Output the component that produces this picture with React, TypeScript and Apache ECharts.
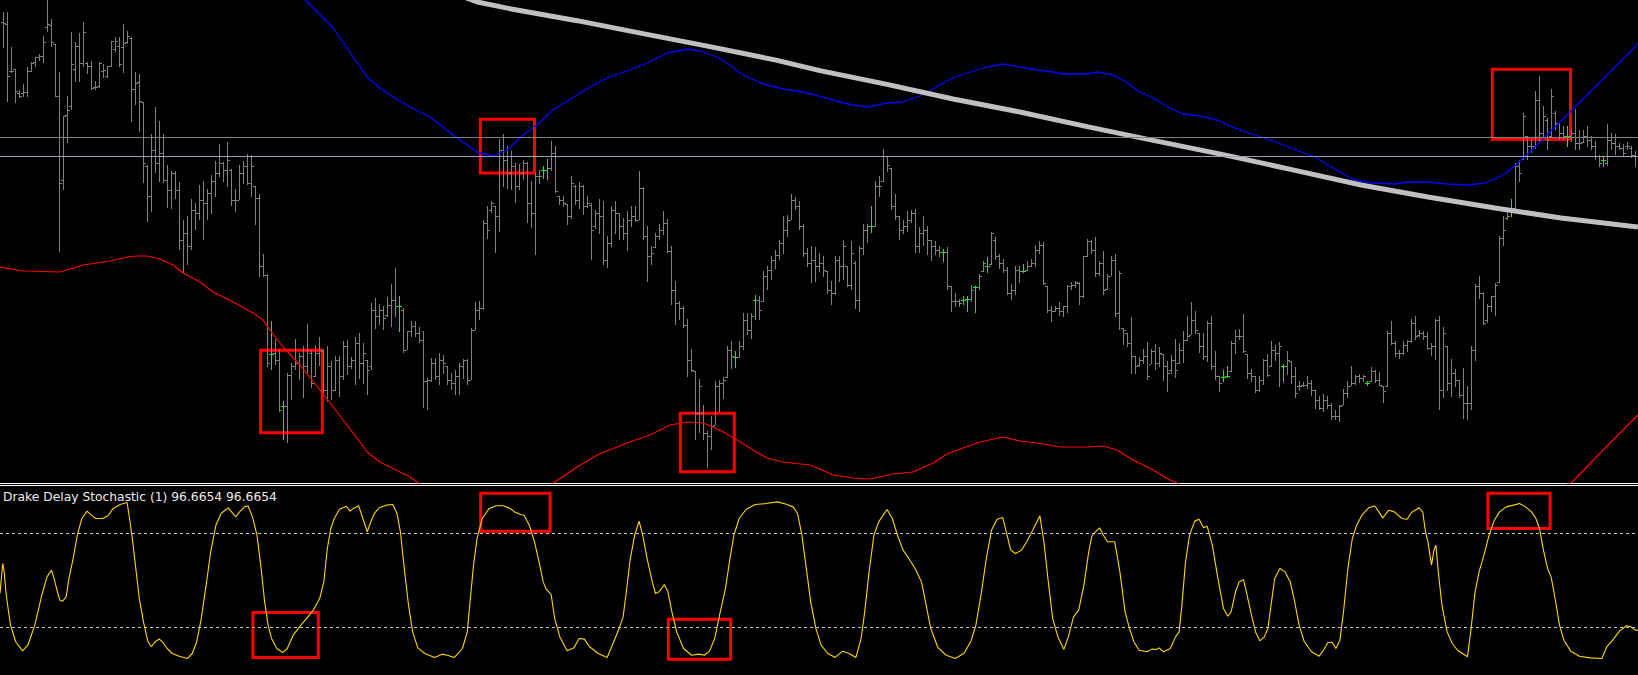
import React, { useEffect, useRef } from "react";
import * as echarts from "echarts";

// Price values are in chart points measured downward from the top of the visible range (axis is inverted).
const barHigh = [
  37,37,141,207,272,252,202,186,171,162, 110,0,57,132,216,349,289,97,126,100,
  67,186,183,243,186,193,198,123,111,111, 73,93,111,216,222,306,497,403,322,365,
  403,497,513,513,547,662,650,597,610,557, 545,567,527,483,432,486,426,507,567,497,
  484,462,466,560,583,763,822,963,1018,1050, 1203,1120,1090,1018,1060,1040,972,1052,1035,1012,
  1052,1038,1085,1068,1070,1025,1022,1072,1012,1000, 1030,1080,910,895,912,920,892,852,806,890,
  925,993,963,965,983,995,1135,1075,1075,1060, 1065,1100,1120,1110,1090,1077,1077,985,908,905,
  660,620,603,620,418,403,440,455,490,492, 480,488,545,520,510,500,478,423,438,588,
  590,612,528,557,548,555,590,610,630,598, 605,710,620,605,640,655,635,620,618,513,
  562,680,740,700,672,633,658,740,843,905, 920,958,1048,1115,1137,1217,1293,1248,1143,1140,
  1133,1040,1025,1053,1025,940,940,940,887,890, 815,798,768,750,720,650,645,583,592,605,
  672,745,740,742,760,768,815,843,768,768, 722,800,725,783,740,672,672,620,545,530,
  448,468,505,583,648,660,635,632,628,682, 650,678,722,725,738,748,742,860,880,898,
  888,888,855,860,822,785,773,697,712,762, 778,802,853,800,800,793,785,778,737,725,
  728,858,918,918,908,918,855,848,845,848, 768,717,720,712,785,755,822,770,762,815,
  985,1000,952,1068,1072,1048,1027,1048,1032,1042, 1062,1085,1065,1018,1030,995,948,908,935,1000,
  1000,965,948,1055,1128,1112,1098,1025,990,988, 942,1062,1108,1128,1128,1078,1062,1025,1035,1028,
  1092,1055,1085,1102,1145,1148,1128,1140,1172,1188, 1182,1188,1210,1232,1215,1168,1145,1098,1125,1122,
  1125,1143,1102,1110,1118,1158,995,965,1025,1052, 1025,1022,958,950,990,995,998,1030,958,948,
  982,1040,1078,1108,1140,1105,1160,1040,852,828, 878,912,888,850,708,648,635,598,490,480,
  340,408,418,275,228,318,355,268,335,368, 380,380,390,328,390,390,380,408,425,465,
  468,372,400,402,430,432,428,440,455,
];

const barLow = [
  143,305,218,308,293,290,290,215,200,182, 187,95,140,290,755,570,428,328,244,244,
  200,220,268,268,262,232,232,199,154,200, 218,130,365,313,395,548,664,635,517,545,
  548,622,627,595,748,818,795,748,690,660, 718,658,640,590,530,545,560,617,635,600,
  550,555,590,673,830,830,1100,1108,1095,1235, 1318,1328,1198,1110,1138,1193,1118,1163,1130,1098,
  1178,1205,1200,1173,1190,1140,1125,1107,1153,1135, 1152,1183,1108,985,975,990,950,980,950,995,
  1057,1050,1010,1010,1027,1222,1228,1145,1140,1153, 1120,1155,1170,1183,1183,1137,1153,1140,990,958,
  928,715,638,757,695,560,565,570,607,570, 540,668,682,765,550,535,540,512,577,615,
  620,673,655,615,627,645,622,778,685,700, 795,802,740,700,718,720,752,680,665,660,
  720,845,795,742,720,705,758,913,973,960, 983,1130,1115,1320,1297,1320,1403,1350,1275,1235,
  1197,1133,1105,1103,1073,1050,1005,1015,960,960, 905,870,840,805,778,760,710,660,630,690,
  770,800,848,845,815,830,880,913,883,845, 838,860,870,925,935,765,728,698,680,590,
  545,515,630,660,718,700,695,668,758,758, 738,765,783,765,770,785,870,935,920,920,
  915,935,905,938,870,815,818,793,780,805, 818,885,898,885,848,818,812,800,800,760,
  855,938,965,935,948,950,938,868,862,913, 892,770,760,830,828,883,868,828,950,988,
  1035,1040,1120,1122,1100,1090,1138,1092,1110,1100, 1143,1175,1120,1132,1090,1088,1022,1005,1000,1058,
  1080,1085,1108,1140,1175,1145,1132,1115,1060,1020, 1058,1135,1145,1178,1175,1155,1130,1100,1082,1160,
  1145,1125,1150,1192,1172,1160,1165,1188,1225,1230, 1235,1225,1258,1258,1265,1215,1192,1158,1155,1148,
  1145,1158,1145,1148,1158,1208,1160,1035,1070,1075, 1065,1055,1028,1018,1010,1020,1050,1068,1080,1228,
  1192,1172,1190,1160,1192,1255,1258,1228,1082,895, 975,968,935,948,848,738,660,650,628,545,
  478,478,458,445,425,410,448,410,390,420, 420,440,425,450,448,428,440,448,478,500,
  500,498,448,465,450,468,448,472,500,
];

const barOpen = [
  67,73,215,208,280,280,276,213,186,172, 170,82,77,132,290,540,345,320,209,140,
  190,190,199,262,260,215,230,199,148,140, 141,127,115,268,247,306,500,590,450,490,
  460,540,570,520,570,720,700,740,630,640, 600,610,580,545,520,490,510,510,600,600,
  520,500,550,560,595,800,825,1063,1060,1080, 1218,1220,1125,1100,1090,1070,1100,1060,1130,1060,
  1055,1170,1100,1170,1080,1130,1040,1100,1080,1030, 1090,1080,1100,930,950,930,945,915,900,920,
  930,1050,995,980,1000,1020,1145,1140,1090,1130, 1080,1100,1140,1150,1130,1100,1080,1140,990,930,
  925,670,630,620,650,450,480,520,500,560, 520,490,610,640,530,510,510,505,460,590,
  600,612,650,560,600,560,620,615,680,640, 650,780,730,630,640,680,700,660,650,660,
  565,710,770,742,710,690,670,755,870,910, 925,975,1080,1115,1240,1240,1300,1310,1275,1160,
  1150,1133,1050,1073,1073,1040,960,990,900,900, 905,830,810,780,765,730,690,660,600,620,
  680,760,790,780,800,790,815,870,880,780, 800,800,855,790,900,745,690,680,680,560,
  545,470,505,620,650,690,680,660,640,740, 700,690,722,740,750,758,758,860,905,905,
  900,898,898,862,862,815,800,793,720,770, 790,810,880,870,810,815,812,800,790,750,
  735,858,930,935,925,935,920,860,855,850, 890,770,725,750,820,790,868,828,780,940,
  985,1000,1030,1070,1095,1080,1070,1092,1055,1090, 1062,1100,1110,1080,1090,1050,1020,1005,960,1000,
  1040,1070,970,1100,1130,1132,1128,1115,1030,1010, 1010,1062,1120,1130,1170,1140,1080,1100,1050,1060,
  1100,1100,1085,1130,1160,1155,1155,1150,1172,1200, 1225,1200,1215,1250,1250,1215,1180,1158,1150,1130,
  1135,1150,1145,1115,1140,1160,1160,1000,1030,1060, 1060,1035,1025,970,1005,1000,1010,1045,1040,960,
  1170,1040,1150,1120,1140,1185,1210,1210,1050,860, 880,960,920,890,848,715,655,625,625,500,
  478,410,440,440,300,400,360,410,340,370, 400,410,410,400,430,428,410,420,440,470,
  482,490,420,430,440,445,440,445,465,
];

const barClose = [
  70,229,214,273,288,278,213,190,172,170, 128,73,128,290,550,350,330,193,140,190,
  97,200,266,262,190,210,200,125,123,192, 130,110,268,250,305,490,590,450,490,460,
  540,570,520,570,720,700,740,630,640,600, 610,580,545,520,490,510,480,600,600,520,
  500,550,500,595,800,825,1090,1063,1080,1230, 1220,1125,1100,1090,1070,1100,1050,1150,1060,1050,
  1170,1100,1170,1080,1130,1040,1100,1080,1030,1090, 1060,1110,930,950,930,955,915,900,920,920,
  1050,995,980,1000,1020,1145,1140,1090,1130,1080, 1090,1140,1150,1130,1100,1080,1140,990,930,925,
  670,690,610,650,450,480,520,500,560,520, 490,610,640,530,530,510,505,460,575,600,
  610,650,550,600,560,620,610,690,640,650, 780,730,630,640,680,700,660,650,660,565,
  710,770,760,710,690,670,755,870,910,925, 975,1080,1110,1240,1160,1300,1310,1280,1160,1150,
  1140,1050,1070,1073,1040,960,990,950,900,930, 830,810,780,765,730,690,660,600,620,680,
  760,790,780,800,790,810,870,880,780,800, 740,855,760,900,745,690,680,680,560,560,
  470,495,620,650,690,680,660,640,740,700, 690,720,740,750,758,758,860,905,905,910,
  900,898,870,862,830,790,800,700,770,790, 810,880,870,810,815,815,800,790,750,735,
  850,930,935,925,935,920,860,855,848,890, 770,725,750,820,790,870,830,780,940,820,
  990,1030,1070,1100,1080,1070,1130,1055,1090,1060, 1100,1120,1080,1110,1050,1020,1010,960,990,1040,
  1070,970,1100,1130,1150,1132,1128,1030,1010,1010, 1055,1120,1130,1170,1140,1080,1125,1050,1060,1040,
  1100,1080,1130,1180,1160,1155,1150,1170,1200,1225, 1200,1215,1250,1250,1218,1180,1160,1150,1130,1135,
  1130,1150,1115,1140,1155,1175,1000,1030,1060,1060, 1035,1025,970,1010,1000,1010,1045,1040,960,1170,
  1000,1150,1120,1140,1185,1210,1210,1050,860,880, 970,920,890,855,715,690,650,625,500,520,
  350,440,440,300,400,350,420,290,370,400, 410,410,400,430,430,410,420,440,470,490,
  482,420,430,440,445,460,440,465,470,
];

const greenBars = [67, 70, 99, 135, 136, 183, 188, 217, 235, 240, 241, 243, 246, 255, 305, 306, 320, 341, 377, 391, 400];

// [bar index, value]
const upperBand = [
  [71.6,-60],[75.4,0],[82.4,84],[90.9,231],[94.1,264],[97.4,291],[101.6,321],[106.6,351],[112.4,405],[118.4,456],
  [122.4,468],[125.9,450],[129.9,405],[133.4,375],[137.4,330],[143.4,285],[147.4,255],[151.6,231],[156.6,210],[160.9,189],
  [165.9,159],[170.9,147],[174.1,153],[178.4,171],[181.6,195],[184.9,225],[189.9,252],[194.9,267],[199.9,276],[204.1,289],
  [209.1,306],[212.4,315],[215.9,321],[220.9,309],[224.9,306],[229.1,288],[232.4,267],[236.6,237],[241.6,216],[245.9,201],
  [249.9,192],[254.1,201],[258.4,210],[262.4,216],[264.9,222],[270.9,222],[273.4,216],[277.4,225],[279.9,240],[284.1,276],
  [288.4,300],[291.6,324],[294.9,342],[299.1,348],[303.4,360],[306.4,377],[311.1,399],[314.4,411],[319.4,432],[324.4,456],
  [327.9,471],[331.1,495],[334.4,519],[337.9,540],[341.9,549],[347.9,552],[351.1,546],[356.1,546],[361.1,552],[366.1,555],
  [370.4,549],[372.9,537],[376.1,516],[379.4,480],[382.9,441],[386.1,402],[389.4,363],[392.9,321],[396.1,282],[400.4,231],
  [404.4,183],[408.6,132],
];

const lowerBand = [
  [-0.9,801],[4.9,813],[14.1,816],[19.9,795],[26.6,783],[30.9,771],[33.4,768],[35.9,768],[39.1,777],[42.4,795],
  [44.9,819],[49.1,846],[52.4,876],[57.4,906],[62.4,939],[64.9,960],[66.6,990],[69.9,1041],[74.1,1095],[79.1,1170],
  [82.4,1221],[87.4,1299],[90.9,1356],[94.1,1386],[99.1,1416],[101.6,1431],[104.1,1452],[109.1,1485],[119.1,1515],[131.6,1485],
  [137.4,1449],[143.4,1401],[148.4,1365],[155.9,1329],[161.6,1305],[166.6,1275],[170.9,1266],[174.9,1269],[179.1,1290],[183.4,1320],
  [187.4,1350],[190.9,1374],[194.9,1386],[201.6,1395],[204.1,1407],[207.4,1425],[212.4,1434],[216.6,1437],[222.4,1422],[227.4,1416],
  [232.4,1389],[235.9,1362],[239.9,1344],[244.1,1326],[249.9,1311],[254.1,1323],[258.4,1329],[264.1,1341],[270.9,1341],[274.9,1338],
  [278.4,1350],[282.4,1380],[287.4,1410],[291.6,1440],[293.4,1449],[299.1,1485],[336.6,1620],[374.1,1510],[391.9,1449],[400.4,1344],
  [408.6,1245],
];

const trendLine = [
  [115.5,-7],[118.5,6],[126.6,26],[143.4,62],[159.9,101],[176.6,140],[193.4,181],[204.1,212],[220.9,253],[237.4,297],
  [254.1,336],[270.9,380],[287.4,421],[306.1,467],[322.9,511],[339.4,555],[356.1,591],[372.9,624],[389.4,654],[408.6,681],
];

const horizontalLevels = [412.5, 469.5];

const stochastic = [
  [-0.875,41.7],[-0.2,60.9],[0.17,55.5],[0.69,40.6],[1.74,21.5],[3.04,10.9],[4.78,5.1],[6.09,8.7],[7.83,21.5],[9.57,40.6],
  [10.88,52.3],[12.01,56.6],[12.62,51.3],[13.49,42.8],[14.1,37.4],[14.79,36.8],[15.66,39.6],[16.36,51.3],[17.41,64.0],[18.45,78.9],
  [19.58,89.6],[20.89,94.3],[21.93,91.7],[23.06,89.6],[24.8,89.6],[26.11,91.3],[27.42,96.0],[29.16,98.5],[30.9,99.8],[31.51,89.6],
  [32.2,76.8],[33.07,57.7],[33.95,38.5],[34.99,23.6],[36.12,10.9],[36.99,7.7],[37.86,10.9],[38.99,12.6],[40.04,9.8],[40.91,6.6],
  [42.21,3.4],[43.96,1.7],[45.96,0.2],[47.18,3.4],[48.31,10.9],[49.44,25.7],[50.66,47.0],[51.79,68.3],[53.1,85.3],[54.4,92.8],
  [56.14,96.4],[57.01,93.8],[58.06,90.6],[59.01,93.8],[60.23,97.0],[61.11,97.7],[62.24,90.6],[63.37,78.9],[64.41,57.7],[65.28,36.4],
  [66.15,21.5],[67.02,13.0],[68.33,6.6],[69.81,4.0],[70.94,6.6],[72.42,15.1],[73.99,20.4],[75.73,25.7],[77.47,31.1],[79.04,38.5],
  [80.08,49.1],[80.95,70.4],[81.82,83.2],[82.69,89.6],[84.0,95.5],[85.74,97.4],[86.61,94.3],[87.48,96.0],[88.79,97.7],[89.83,89.6],
  [90.96,81.1],[91.66,86.4],[92.7,92.8],[94.01,96.6],[95.75,98.1],[97.32,98.5],[98.36,92.8],[99.23,81.1],[100.1,59.8],[101.15,36.4],
  [102.28,17.2],[103.59,7.0],[105.33,3.4],[107.76,0.9],[109.68,3.0],[110.98,2.3],[112.73,0.9],[114.73,6.6],[115.95,17.2],[116.64,36.4],
  [117.51,59.8],[118.38,76.8],[119.69,89.6],[121.43,96.0],[123.17,97.7],[124.91,97.7],[126.65,96.0],[127.79,93.8],[129.27,92.1],[130.14,91.7],
  [131.44,85.3],[132.75,74.7],[133.88,61.9],[134.92,49.1],[135.62,44.7],[136.9,41.1],[137.8,25.7],[139.1,14.0],[140.9,5.1],[142.6,7.0],
  [143.9,13.0],[145.2,12.6],[146.5,7.7],[148.7,3.4],[150.9,0.9],[152.2,8.7],[153.9,19.4],[154.9,26.8],[155.6,40.6],[156.7,64.0],
  [157.8,78.9],[158.9,87.9],[159.8,78.9],[160.9,64.0],[162.2,49.1],[163.0,41.7],[163.9,42.8],[165.2,47.4],[166.1,42.8],[167.1,30.0],
  [168.3,17.2],[170.0,6.6],[172.0,2.3],[173.9,3.0],[175.2,2.3],[176.5,4.9],[177.8,13.0],[179.1,28.9],[180.5,44.9],[181.6,64.0],
  [182.6,78.9],[183.9,89.6],[185.7,95.5],[187.9,98.5],[190.5,99.1],[193.5,100.2],[195.7,98.7],[197.4,97.0],[198.5,92.8],[199.6,78.9],
  [200.7,57.7],[201.8,36.4],[203.1,19.4],[204.4,8.7],[206.1,3.4],[207.9,0.9],[209.8,4.9],[211.4,3.4],[213.1,0.9],[214.4,13.0],
  [215.3,30.0],[216.4,55.5],[217.6,78.9],[218.8,87.4],[219.9,91.7],[220.9,95.3],[222.2,89.6],[223.5,78.9],[224.9,69.4],[226.2,64.5],
  [227.9,57.7],[229.5,49.1],[230.5,36.4],[231.8,19.4],[233.6,7.2],[235.7,2.3],[237.9,0.2],[240.1,3.4],[241.8,10.9],[243.1,21.5],
  [244.5,42.8],[245.7,64.0],[247.0,82.1],[248.4,89.1],[249.8,90.2],[250.7,81.1],[251.8,69.4],[253.0,67.2],[254.5,69.4],[255.8,74.7],
  [257.3,82.1],[259.1,91.3],[260.1,74.7],[261.2,49.1],[262.3,25.7],[263.6,14.0],[265.1,6.0],[266.2,14.0],[267.5,26.8],[268.8,31.1],
  [270.1,47.0],[271.3,68.3],[272.1,78.4],[273.0,81.1],[274.0,83.6],[275.2,77.9],[276.0,74.7],[277.8,74.7],[279.1,55.5],[280.4,30.0],
  [281.5,19.4],[282.6,10.9],[283.9,5.5],[285.9,4.5],[287.1,6.2],[288.2,6.0],[288.9,7.0],[290.0,4.5],[291.7,6.6],[293.0,14.0],
  [293.9,17.2],[294.6,34.3],[295.5,61.9],[296.5,78.9],[297.8,87.9],[298.9,89.1],[300.0,83.6],[300.9,84.7],[302.2,72.6],[303.6,51.3],
  [305.0,32.1],[306.1,27.2],[306.9,30.0],[308.0,42.8],[308.9,49.1],[310.0,50.6],[310.9,40.6],[312.0,27.9],[313.0,17.2],[314.1,11.5],
  [315.2,14.0],[316.1,19.4],[317.0,36.4],[317.8,51.3],[319.1,57.7],[320.4,55.5],[321.7,49.1],[322.8,36.4],[323.9,21.5],[325.2,10.9],
  [327.0,4.5],[328.9,1.7],[330.0,5.5],[331.1,10.4],[332.2,10.4],[333.1,6.6],[334.1,11.9],[335.0,30.0],[336.1,57.7],[337.2,76.8],
  [338.3,85.3],[339.6,91.7],[341.3,96.4],[342.8,97.7],[343.7,94.3],[344.8,90.0],[346.3,94.9],[347.7,93.8],[349.6,89.6],[350.9,89.1],
  [352.0,93.4],[353.9,96.4],[354.8,93.8],[355.5,81.1],[356.1,74.7],[357.0,59.8],[357.6,69.4],[358.1,72.6],[358.7,55.5],[359.6,34.3],
  [360.9,17.2],[362.2,9.8],[363.5,5.5],[366.0,1.3],[366.8,17.2],[367.9,42.8],[368.9,55.5],[370.1,66.2],[371.4,78.9],[372.7,88.5],
  [374.0,93.8],[375.7,97.0],[377.5,98.1],[379.0,99.1],[380.5,97.0],[382.0,93.8],[383.1,89.6],[384.0,83.2],[384.9,70.4],[386.0,57.7],
  [386.9,52.3],[387.9,38.5],[389.0,21.5],[390.1,11.9],[391.8,4.9],[394.0,1.7],[396.6,0.6],[399.6,0.2],[400.8,7.7],[402.3,11.9],
  [404.0,17.7],[405.7,21.1],[406.9,20.4],[407.9,18.3],[408.6,18.3],
];

const stochLevels = [20, 80];

// Annotation boxes: [fromBar, fromValue, toBar, toValue]
const priceBoxes = [
  [64.3, 1051, 79.7, 1298],
  [119.2, 358, 132.75, 519],
  [169.2, 1240, 182.7, 1415],
  [372.2, 208, 391.75, 418],
];
const stochBoxes = [
  [62.35, 29.6, 78.7, 0.85],
  [119.3, 105.7, 136.65, 81.5],
  [166.2, 25.3, 181.8, -0.2],
  [371.1, 105.7, 386.65, 83.2],
];

const indicatorLabel = "Drake Delay Stochastic (1) 96.6654 96.6654";

const BAR_COUNT = barHigh.length;
const X_MIN = -0.875;
const X_MAX = X_MIN + 409.5;

export default function App() {
  const ref = useRef<HTMLDivElement>(null);

  useEffect(() => {
    document.body.style.margin = "0";
    document.body.style.background = "#000";
    if (!ref.current) return;
    const chart = echarts.init(ref.current, undefined, { renderer: "svg" });

    const barData = barHigh.map((h, i) => [
      i,
      barOpen[i],
      h,
      barLow[i],
      barClose[i],
      greenBars.includes(i) ? 1 : 0,
    ]);

    const renderBar = (params: any, api: any) => {
      const i = api.value(0);
      const pO = api.coord([i, api.value(1)]);
      const pH = api.coord([i, api.value(2)]);
      const pL = api.coord([i, api.value(3)]);
      const pC = api.coord([i, api.value(4)]);
      const x = Math.floor(pH[0]) + 0.5;
      const yTop = Math.floor(pH[1]);
      const yBot = Math.max(Math.ceil(pL[1]), yTop + 1);
      const yo = Math.floor(pO[1]) + 0.5;
      const yc = Math.floor(pC[1]) + 0.5;
      const stroke = api.value(5) ? "#00ff00" : "#808080";
      const style = { stroke, lineWidth: 1 };
      return {
        type: "group",
        children: [
          { type: "line", shape: { x1: x, y1: yTop, x2: x, y2: yBot }, style },
          { type: "line", shape: { x1: x - 2.5, y1: yo, x2: x - 0.5, y2: yo }, style },
          { type: "line", shape: { x1: x + 0.5, y1: yc, x2: x + 2.5, y2: yc }, style },
        ],
      };
    };

    const boxArea = (boxes: number[][]) => ({
      silent: true,
      itemStyle: { color: "rgba(0,0,0,0)", borderColor: "#ff0000", borderWidth: 3 },
      label: { show: false },
      emphasis: { disabled: true },
      data: boxes.map((b) => [{ coord: [b[0], b[1]] }, { coord: [b[2], b[3]] }]),
    });

    chart.setOption({
      animation: false,
      backgroundColor: "#000000",
      tooltip: { show: false },
      grid: [
        { left: 0, top: 0, width: 1638, height: 483 },
        { left: 0, top: 485, width: 1638, height: 190 },
      ],
      xAxis: [
        { type: "value", gridIndex: 0, min: X_MIN, max: X_MAX, show: false },
        { type: "value", gridIndex: 1, min: X_MIN, max: X_MAX, show: false },
      ],
      yAxis: [
        { type: "value", gridIndex: 0, min: 0, max: 1449, inverse: true, show: false },
        { type: "value", gridIndex: 1, min: -10.32, max: 110.96, show: false },
      ],
      graphic: [
        { type: "line", shape: { x1: 0, y1: 483.5, x2: 1638, y2: 483.5 }, style: { stroke: "#ffffff", lineWidth: 1 }, silent: true },
        { type: "line", shape: { x1: 0, y1: 485.5, x2: 1638, y2: 485.5 }, style: { stroke: "#ffffff", lineWidth: 1 }, silent: true },
        {
          type: "text",
          left: 3,
          top: 491,
          silent: true,
          style: { text: indicatorLabel, fill: "#ececec", font: '12.3px "DejaVu Sans"' },
        },
      ],
      series: [
        {
          type: "custom",
          name: "bars",
          xAxisIndex: 0,
          yAxisIndex: 0,
          renderItem: renderBar,
          encode: { x: 0, y: [1, 2, 3, 4] },
          data: barData.slice(0, BAR_COUNT),
          clip: true,
          silent: true,
          z: 2,
        },
        {
          type: "line",
          name: "upper",
          xAxisIndex: 0,
          yAxisIndex: 0,
          data: upperBand,
          symbol: "none",
          silent: true,
          clip: true,
          lineStyle: { color: "#0000ff", width: 1.3 },
          z: 3,
          markLine: {
            silent: true,
            symbol: ["none", "none"],
            label: { show: false },
            lineStyle: { type: "solid", width: 1 },
            data: [
              { yAxis: horizontalLevels[0], lineStyle: { color: "#808080" } },
              { yAxis: horizontalLevels[1], lineStyle: { color: "#98a4b6" } },
            ],
          },
        },
        {
          type: "line",
          name: "lower",
          xAxisIndex: 0,
          yAxisIndex: 0,
          data: lowerBand,
          symbol: "none",
          silent: true,
          clip: true,
          lineStyle: { color: "#ff0000", width: 1.2 },
          z: 3,
        },
        {
          type: "line",
          name: "trend",
          xAxisIndex: 0,
          yAxisIndex: 0,
          data: trendLine,
          symbol: "none",
          silent: true,
          clip: true,
          lineStyle: { color: "#c0c0c0", width: 5 },
          z: 4,
          markArea: boxArea(priceBoxes),
        },
        {
          type: "line",
          name: "stochastic",
          xAxisIndex: 1,
          yAxisIndex: 1,
          data: stochastic,
          symbol: "none",
          silent: true,
          clip: true,
          lineStyle: { color: "#ffd400", width: 1.1 },
          z: 3,
          markLine: {
            silent: true,
            symbol: ["none", "none"],
            label: { show: false },
            lineStyle: { type: [3, 3], width: 1, color: "#c8c8c8" },
            data: stochLevels.map((v) => ({ yAxis: v })),
          },
          markArea: boxArea(stochBoxes),
        },
      ],
    });

    return () => chart.dispose();
  }, []);

  return (
    <div style={{ position: "fixed", left: 0, top: 0, width: 1638, height: 675, background: "#000", overflow: "hidden" }}>
      <div ref={ref} style={{ width: 1638, height: 675 }} />
    </div>
  );
}
